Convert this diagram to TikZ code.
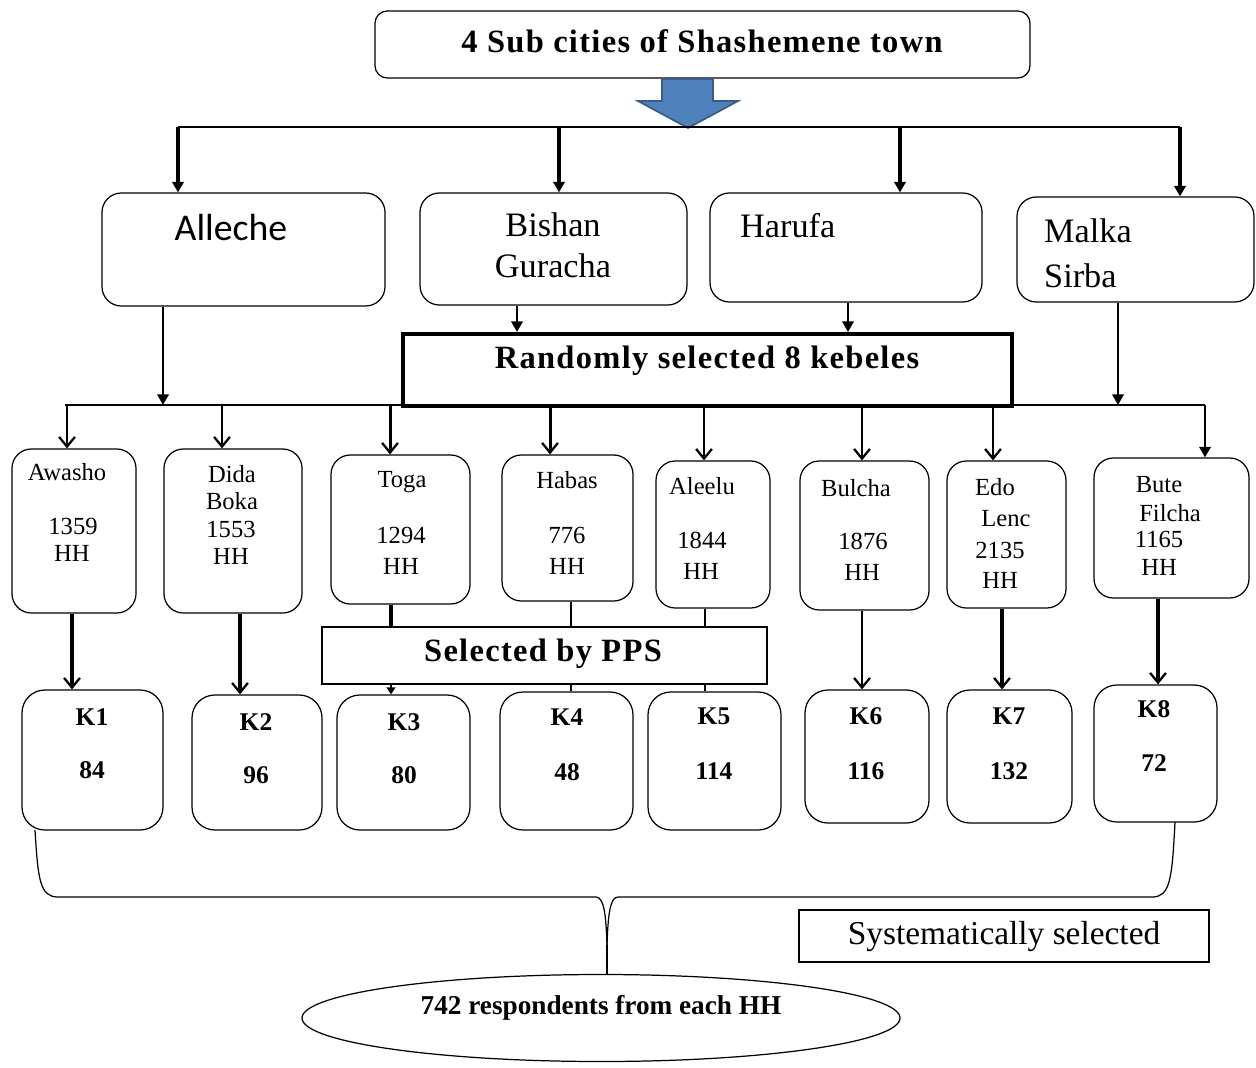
\documentclass[tikz,border=0pt]{standalone}
\usepackage{fontspec}
\setmainfont{Liberation Serif}
\newfontfamily\calibri{Carlito}
\newfontfamily\spacedbold[LetterSpace=4]{Liberation Serif}
\usetikzlibrary{arrows.meta,fit,shapes.geometric}
\definecolor{bluefill}{HTML}{4F81BD}
\definecolor{blueedge}{HTML}{385D8A}
\begin{document}
\begin{tikzpicture}[x=0.02cm,y=-0.02cm,
  rbox/.style={draw, line width=0.7pt, rounded corners=11pt, inner sep=0pt, fit={#1}},
  sbox/.style={draw, line width=0.7pt, inner sep=0pt, fit={#1}},
  tri/.style={-{Triangle[length=6pt,width=6.5pt]}, line width=1.8pt},
  vee/.style={-{Straight Barb[length=5.5pt,width=9pt,line width=1.3pt]}, line width=1.3pt},
  conn/.style={line width=0.9pt},
  big/.style={font=\spacedbold\fontsize{18.5}{20}\selectfont\bfseries},
  sub/.style={font=\fontsize{19.5}{22}\selectfont},
  keb/.style={font=\fontsize{14}{16}\selectfont},
  kk/.style={font=\fontsize{14.5}{16}\selectfont\bfseries}
]
\useasboundingbox (0,0) rectangle (1256,1067);

% ---------- top ----------
\node[rbox={(375,11) (1030,78)}, rounded corners=7pt] (top) {};
\node[big] (toptxt) at (702,41) {4 Sub cities of Shashemene town};
\filldraw[fill=bluefill, draw=blueedge, line width=1pt]
  (662,79) -- (713,79) -- (713,101) -- (738,101) -- (688,128) -- (638,101) -- (662,101) -- cycle;

\coordinate (hl) at (178,127);
\coordinate (h2) at (559,127);
\coordinate (h3) at (900,127);
\coordinate (hr) at (1180,127);
\draw[conn] (hl) -- (hr);

% ---------- sub cities ----------
\node[rbox={(102,193) (385,306)}] (alleche) {};
\node[rbox={(420,193) (687,305)}] (bishan) {};
\node[rbox={(710,193) (982,302)}] (harufa) {};
\node[rbox={(1017,197) (1254,302)}] (malka) {};
\node[font=\calibri\fontsize{21.5}{23}\selectfont] at (231,228) {Alleche};
\node[sub] at (553,225) {Bishan};
\node[sub] at (553,266) {Guracha};
\node[sub, anchor=west] at (734,226) {Harufa};
\node[sub, anchor=west] at (1038,231) {Malka};
\node[sub, anchor=west] at (1038,276) {Sirba};

\draw[tri] (hl) -- (hl |- alleche.north);
\draw[tri] (h2) -- (h2 |- bishan.north);
\draw[tri] (h3) -- (h3 |- harufa.north);
\draw[tri] (hr) -- (hr |- malka.north);

% ---------- randomly selected ----------
\node[draw, line width=2.3pt, inner sep=0pt, fit={(403,334) (1012,406)}] (rand) {};
\node[big] at (707,361) {Randomly selected 8 kebeles};
\coordinate (xb) at (517,0);
\coordinate (xh) at (848,0);
\draw[tri, line width=1.2pt] (xb |- bishan.south) -- (xb |- rand.north);
\draw[tri, line width=1.2pt] (xh |- harufa.south) -- (xh |- rand.north);

\coordinate (kl) at (65,405);
\coordinate (kr) at (1205,405);
\draw[conn] (kl) -- (kr);
\coordinate (xa) at (163,405);
\coordinate (xm) at (1118,405);
\draw[tri, line width=1.3pt] (xa |- alleche.south) -- (xa);
\draw[tri, line width=1.3pt] (xm |- malka.south) -- (xm);

% ---------- kebeles ----------
\node[rbox={(12,449) (136,613)}] (awasho) {};
\node[rbox={(164,449) (302,613)}] (dida) {};
\node[rbox={(331,455) (470,604)}] (toga) {};
\node[rbox={(502,455) (633,601)}] (habas) {};
\node[rbox={(656,461) (770,608)}] (aleelu) {};
\node[rbox={(800,461) (929,610)}] (bulcha) {};
\node[rbox={(947,461) (1066,608)}] (edo) {};
\node[rbox={(1094,458) (1249,598)}] (bute) {};

\node[keb] at (67,472) {Awasho};
\node[keb] at (73,526) {1359};
\node[keb] at (72,553) {HH};
\node[keb] at (232,474) {Dida};
\node[keb] at (232,501) {Boka};
\node[keb] at (231,529) {1553};
\node[keb] at (231,556) {HH};
\node[keb] at (402,482) {Toga};
\node[keb] at (401,535) {1294};
\node[keb] at (401,566) {HH};
\node[keb] at (567,480) {Habas};
\node[keb] at (567,535) {776};
\node[keb] at (567,566) {HH};
\node[keb] at (702,486) {Aleelu};
\node[keb] at (702,540) {1844};
\node[keb] at (701,571) {HH};
\node[keb] at (856,488) {Bulcha};
\node[keb] at (863,541) {1876};
\node[keb] at (862,572) {HH};
\node[keb] at (995,487) {Edo};
\node[keb] at (1006,519) {Lenc};
\node[keb] at (1000,550) {2135};
\node[keb] at (1000,580) {HH};
\node[keb] at (1159,485) {Bute};
\node[keb] at (1170,513) {Filcha};
\node[keb] at (1159,539) {1165};
\node[keb] at (1159,567) {HH};

\coordinate (a1) at (67,405);
\coordinate (a2) at (222,405);
\coordinate (a3) at (390,405);
\coordinate (a4) at (550,405);
\coordinate (a5) at (704,405);
\coordinate (a6) at (862,405);
\coordinate (a7) at (993,405);
\coordinate (a8) at (1205,405);
\draw[vee] (a1) -- (a1 |- awasho.north);
\draw[vee] (a2) -- (a2 |- dida.north);
\draw[vee, line width=1.7pt] (a3) -- (a3 |- toga.north);
\draw[vee, line width=1.7pt] (a4) -- (a4 |- habas.north);
\draw[vee] (a5) -- (a5 |- aleelu.north);
\draw[vee] (a6) -- (a6 |- bulcha.north);
\draw[vee] (a7) -- (a7 |- edo.north);
\draw[tri, line width=1.2pt] (a8) -- (a8 |- bute.north);

% ---------- selected by PPS ----------
\node[sbox={(322,627) (767,684)}] (pps) {};
\node[big] at (543,654) {Selected by PPS};

% ---------- K boxes ----------
\node[rbox={(22,690) (163,830)}, rounded corners=13pt] (k1) {};
\node[rbox={(192,695) (322,830)}, rounded corners=13pt] (k2) {};
\node[rbox={(337,695) (470,830)}, rounded corners=13pt] (k3) {};
\node[rbox={(500,692) (633,830)}, rounded corners=13pt] (k4) {};
\node[rbox={(648,692) (781,830)}, rounded corners=13pt] (k5) {};
\node[rbox={(805,690) (929,823)}, rounded corners=13pt] (k6) {};
\node[rbox={(947,690) (1072,823)}, rounded corners=13pt] (k7) {};
\node[rbox={(1094,685) (1217,822)}, rounded corners=13pt] (k8) {};

\node[kk] at (92,717) {K1};   \node[kk] at (92,770) {84};
\node[kk] at (256,722) {K2};  \node[kk] at (256,775) {96};
\node[kk] at (404,722) {K3};  \node[kk] at (404,775) {80};
\node[kk] at (567,717) {K4};  \node[kk] at (567,772) {48};
\node[kk] at (714,716) {K5};  \node[kk] at (714,771) {114};
\node[kk] at (866,716) {K6};  \node[kk] at (866,771) {116};
\node[kk] at (1009,716) {K7}; \node[kk] at (1009,771) {132};
\node[kk] at (1154,709) {K8}; \node[kk] at (1154,763) {72};

\coordinate (c1) at (72,0);
\coordinate (c2) at (240,0);
\coordinate (c3) at (391,0);
\coordinate (c4) at (571,0);
\coordinate (c5) at (705,0);
\coordinate (c6) at (862,0);
\coordinate (c7) at (1002,0);
\coordinate (c8) at (1158,0);
\draw[vee, line width=1.8pt] (c1 |- awasho.south) -- (c1 |- k1.north);
\draw[vee, line width=1.8pt] (c2 |- dida.south) -- (c2 |- k2.north);
\draw[line width=2pt] (c3 |- toga.south) -- (c3 |- pps.north);
\draw[-{Triangle[length=4pt,width=5pt]}, line width=1pt] (c3 |- pps.south) -- (c3 |- k3.north);
\draw[line width=1.5pt] (c4 |- habas.south) -- (c4 |- pps.north);
\draw[line width=1.2pt] (c4 |- pps.south) -- (c4 |- k4.north);
\draw[line width=1.5pt] (c5 |- aleelu.south) -- (c5 |- pps.north);
\draw[line width=1.2pt] (c5 |- pps.south) -- (c5 |- k5.north);
\draw[vee, line width=1pt] (c6 |- bulcha.south) -- (c6 |- k6.north);
\draw[vee, line width=1.8pt] (c7 |- edo.south) -- (c7 |- k7.north);
\draw[vee, line width=1.8pt] (c8 |- bute.south) -- (c8 |- k8.north);

% ---------- brace ----------
\coordinate (bl) at (35,830);
\coordinate (br) at (1175,822);
\coordinate (tip) at (607,945);
\node[draw, line width=0.7pt, ellipse, inner sep=0pt, minimum width={598*0.02cm}, minimum height={87*0.02cm}] (ell) at (601,1018) {};
\node[font=\fontsize{15.5}{17}\selectfont\bfseries] at (601,1008) {742 respondents from each HH};
\draw[line width=0.7pt] (bl) .. controls (38,880) and (40,897) .. (58,897) -- (596,897)
  .. controls (604,897) and (606,915) .. (tip);
\draw[line width=0.7pt] (br) .. controls (1172,880) and (1170,897) .. (1152,897) -- (618,897)
  .. controls (610,897) and (608,915) .. (tip);
\draw[line width=0.7pt] (tip) -- (tip |- ell.north);

\node[sbox={(799,910) (1209,962)}] (sys) {};
\node[font=\fontsize{19}{21}\selectfont] at (1004,937) {Systematically selected};
\end{tikzpicture}
\end{document}
